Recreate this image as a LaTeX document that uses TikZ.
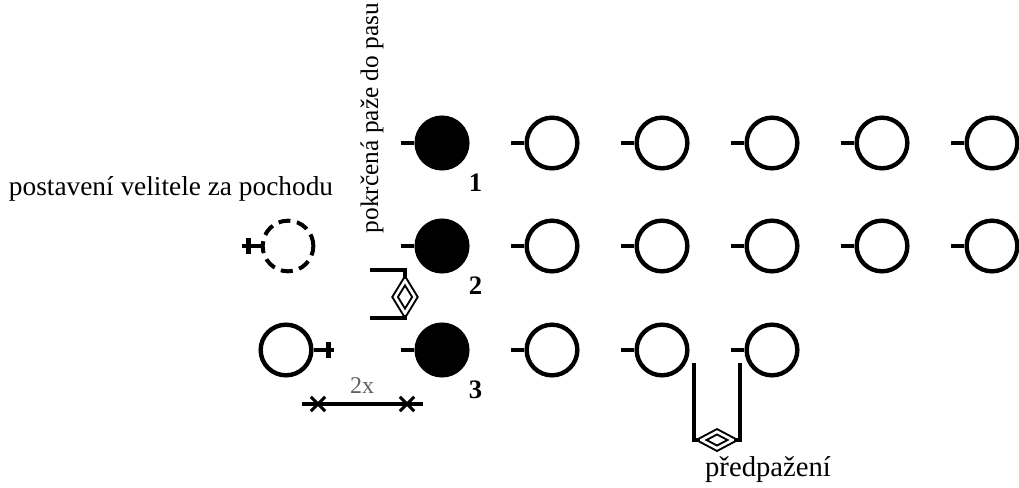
\documentclass[tikz,border=0pt]{standalone}
\usepackage{fontspec}
\setmainfont{Liberation Serif}
\usetikzlibrary{shapes.geometric,shapes.misc,positioning}

\tikzset{
	vojak/.style={circle, draw, line width=3.3pt, minimum size=38pt, inner sep=0pt},
	velitel/.style={vojak, fill=black},
	pahyl/.style={line width=3.6pt},
	zavorka/.style={line width=2.8pt},
	kosoctverec/.style={diamond, draw, line width=1.5pt, double, double distance=2pt, inner sep=0pt},
	krizek/.style={cross out, draw, line width=2.2pt, minimum size=8.5pt, inner sep=0pt},
	popis/.style={font=\fontsize{20.5}{22}\selectfont, inner sep=0pt},
	cislo/.style={font=\fontsize{20}{22}\selectfont\bfseries, inner sep=0pt},
}

\begin{document}
\begin{tikzpicture}[x=0.75pt, y=-0.75pt]
	\useasboundingbox (0,0) rectangle (1019,488);

	\foreach \r/\y in {1/143, 2/246, 3/350} {
		\node[velitel] (c\r1) at (442,\y) {};
		\draw[pahyl] (c\r1.west) -- ++(-13,0);
		\node[cislo] at ([shift={(14,20)}]c\r1.south east) {\r};
	}
	\foreach \r/\y/\n in {1/143/6, 2/246/6, 3/350/4} {
		\foreach \c in {2,...,\n} {
			\node[vojak] (c\r\c) at ({442+110*(\c-1)},\y) {};
			\draw[pahyl] (c\r\c.west) -- ++(-13,0);
		}
	}

	\node[vojak, line width=3pt, dash pattern=on 9pt off 5pt] (vp) at (288,246) {};
	\draw[pahyl] (vp.west) -- ++(-19,0) ++(7,-8) -- ++(0,16);
	\node[vojak] (vs) at (286,350) {};
	\draw[pahyl] (vs.east) -- ++(20,0) ++(-5,-8) -- ++(0,16);

	\node[popis] (tvel) at (171,189) {postavení velitele za pochodu};
	\node[popis, rotate=90, font=\fontsize{19}{21}\selectfont] (tpas) at (372,118) {pokrčená paže do pasu};
	\node[popis, font=\fontsize{21.5}{23}\selectfont] (tpred) at (768,470) {předpažení};

	\node[kosoctverec, minimum width=15.5pt, minimum height=25pt] (d1) at (405,297) {};
	\coordinate (h1) at (370,270);
	\coordinate (h2) at (370,318);
	\draw[zavorka] (h1) -| (d1.north);
	\draw[zavorka] (h2) -| (d1.south);

	\node[kosoctverec, minimum width=24pt, minimum height=13pt] (d2) at (717,440) {};
	\coordinate (p1) at (694,363);
	\coordinate (p2) at (740,363);
	\draw[zavorka] (p1) |- (d2.west);
	\draw[zavorka] (p2) |- (d2.east);

	\coordinate (ml) at (302,404);
	\coordinate (mr) at (423,404);
	\node[krizek] (k1) at (318,404) {};
	\node[krizek] (k2) at (407,404) {};
	\draw[line width=2.6pt] (ml) -- (mr);
	\node[popis, text=black!62, font=\fontsize{18}{20}\selectfont] (t2x) at (362,386) {2x};
\end{tikzpicture}
\end{document}
